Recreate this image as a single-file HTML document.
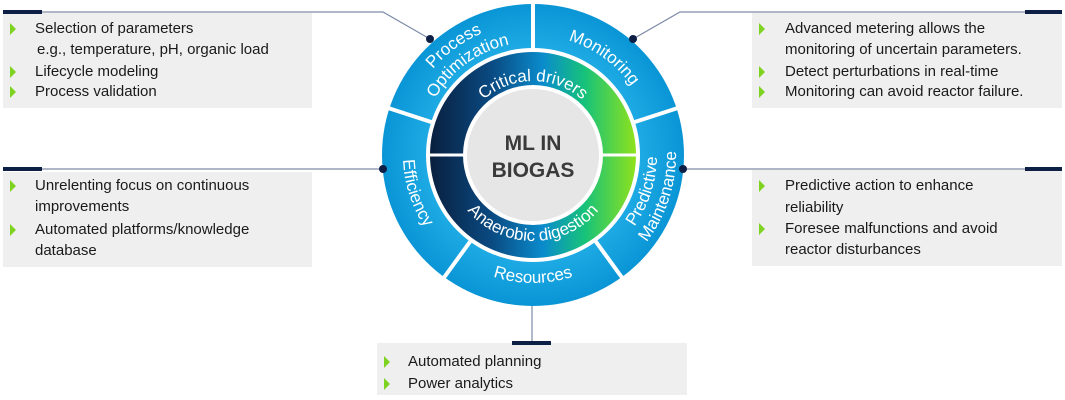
<!DOCTYPE html>
<html><head><meta charset="utf-8"><style>
body{margin:0;width:1065px;height:400px;background:#fff;position:relative;overflow:hidden;font-family:"Liberation Sans",sans-serif;}
.box{position:absolute;background:#efefef;}
.t{position:absolute;font-size:15px;color:#1a1a1a;white-space:nowrap;line-height:18px;}
.a{position:absolute;width:0;height:0;border-top:6px solid transparent;border-bottom:6px solid transparent;border-left:6px solid #7ed321;}
svg{position:absolute;left:0;top:0;}
</style></head><body>
<div class="box" style="left:3px;top:13px;width:309px;height:95px"></div>
<div class="box" style="left:752px;top:13px;width:310px;height:95px"></div>
<div class="box" style="left:3px;top:172px;width:309px;height:95px"></div>
<div class="box" style="left:752px;top:170px;width:310px;height:96px"></div>
<div class="box" style="left:377px;top:343px;width:310px;height:52px"></div>

<div class="a" style="left:10px;top:23px"></div><div class="t" style="left:35px;top:20px">Selection of parameters</div>
<div class="t" style="left:37px;top:41px">e.g., temperature, pH, organic load</div>
<div class="a" style="left:10px;top:66px"></div><div class="t" style="left:35px;top:63px">Lifecycle modeling</div>
<div class="a" style="left:10px;top:86px"></div><div class="t" style="left:35px;top:83px">Process validation</div>

<div class="a" style="left:759px;top:23px"></div><div class="t" style="left:785px;top:20px">Advanced metering allows the</div>
<div class="t" style="left:785px;top:41px">monitoring of uncertain parameters.</div>
<div class="a" style="left:759px;top:66px"></div><div class="t" style="left:785px;top:63px">Detect perturbations in real-time</div>
<div class="a" style="left:759px;top:86px"></div><div class="t" style="left:785px;top:83px">Monitoring can avoid reactor failure.</div>

<div class="a" style="left:10px;top:180px"></div><div class="t" style="left:35px;top:177px">Unrelenting focus on continuous</div>
<div class="t" style="left:35px;top:198px">improvements</div>
<div class="a" style="left:10px;top:224px"></div><div class="t" style="left:35px;top:221px">Automated platforms/knowledge</div>
<div class="t" style="left:35px;top:242px">database</div>

<div class="a" style="left:759px;top:180px"></div><div class="t" style="left:785px;top:177px">Predictive action to enhance</div>
<div class="t" style="left:785px;top:199px">reliability</div>
<div class="a" style="left:759px;top:223px"></div><div class="t" style="left:785px;top:220px">Foresee malfunctions and avoid</div>
<div class="t" style="left:785px;top:241px">reactor disturbances</div>

<div class="a" style="left:384px;top:356px"></div><div class="t" style="left:408px;top:353px">Automated planning</div>
<div class="a" style="left:384px;top:378px"></div><div class="t" style="left:408px;top:375px">Power analytics</div>

<svg width="1065" height="400" viewBox="0 0 1065 400">
<defs>
<radialGradient id="og" cx="533" cy="155" r="150" gradientUnits="userSpaceOnUse">
<stop offset="0.65" stop-color="#22aee6"/><stop offset="1" stop-color="#0a96d6"/></radialGradient>
<linearGradient id="ig" x1="430" y1="0" x2="636" y2="0" gradientUnits="userSpaceOnUse">
<stop offset="0" stop-color="#0a1f3e"/><stop offset="0.3" stop-color="#0a4a82"/><stop offset="0.55" stop-color="#0a8ccc"/><stop offset="0.75" stop-color="#16c27a"/><stop offset="1" stop-color="#8fe21c"/></linearGradient>
<path id="p1" d="M401,155 A132,132 0 0 1 573.8,29.5"/>
<path id="p2" d="M420,155 A113,113 0 0 1 567.9,47.5"/>
<path id="p3" d="M495.9,40.9 A121,121 0 0 1 654,155"/>
<path id="p4" d="M533,279 A124,124 0 0 0 605.9,54.7"/>
<path id="p5" d="M533,298 A143,143 0 0 0 617.1,39.3"/>
<path id="p6" d="M456.6,49.8 A130,130 0 0 0 533,285"/>
<path id="p7" d="M411.3,194.6 A128,128 0 0 0 654.7,194.6"/>
<path id="p8" d="M459,155 A74,74 0 0 1 607,155"/>
<path id="p9" d="M447,155 A86,86 0 0 0 619,155"/>
</defs>
<g stroke="#7d8ba6" stroke-width="1.2" fill="none">
<polyline points="42,12 383,12 430,39"/>
<polyline points="633,39 680,12 1025,12"/>
<line x1="42" y1="169" x2="383" y2="169"/>
<line x1="683" y1="169" x2="1025" y2="169"/>
<line x1="532" y1="300" x2="532" y2="343"/>
</g>
<g fill="#0d1f45">
<rect x="3" y="10" width="39" height="4"/><rect x="1025" y="10" width="37" height="4"/>
<rect x="3" y="167" width="39" height="4"/><rect x="1025" y="167" width="37" height="4"/>
<rect x="512" y="341" width="39" height="4"/>
</g>
<circle cx="533" cy="155" r="151" fill="url(#og)"/>
<g stroke="#fff" stroke-width="4">
<line x1="533" y1="50" x2="533" y2="2"/>
<line x1="632.9" y1="122.6" x2="679" y2="107.6"/>
<line x1="433.1" y1="122.6" x2="387" y2="107.6"/>
<line x1="594.7" y1="240" x2="623.4" y2="279.5"/>
<line x1="471.3" y1="240" x2="442.6" y2="279.5"/>
</g>
<circle cx="533" cy="155" r="107" fill="#fff"/>
<circle cx="533" cy="155" r="103" fill="url(#ig)"/>
<line x1="428" y1="155" x2="638" y2="155" stroke="#fff" stroke-width="3"/>
<circle cx="533" cy="155" r="70" fill="#fff"/>
<circle cx="533" cy="155" r="66" fill="#e6e6e6"/>
<text x="533" y="150" text-anchor="middle" font-size="21" font-weight="bold" fill="#3a3a3a">ML IN</text>
<text x="533" y="177" text-anchor="middle" font-size="21" font-weight="bold" fill="#3a3a3a">BIOGAS</text>
<g fill="#fff" font-size="17">
<text><textPath href="#p1" startOffset="50%" text-anchor="middle">Process</textPath></text>
<text><textPath href="#p2" startOffset="50%" text-anchor="middle">Optimization</textPath></text>
<text><textPath href="#p3" startOffset="50%" text-anchor="middle">Monitoring</textPath></text>
<text><textPath href="#p4" startOffset="50%" text-anchor="middle">Predictive</textPath></text>
<text><textPath href="#p5" startOffset="50%" text-anchor="middle">Maintenance</textPath></text>
<text><textPath href="#p6" startOffset="50%" text-anchor="middle">Efficiency</textPath></text>
<text><textPath href="#p7" startOffset="50%" text-anchor="middle">Resources</textPath></text>
<text><textPath href="#p8" startOffset="50%" text-anchor="middle">Critical drivers</textPath></text>
<text><textPath href="#p9" startOffset="50%" text-anchor="middle">Anaerobic digestion</textPath></text>
</g>
<g fill="#0d1f45">
<circle cx="430" cy="39" r="4"/><circle cx="633" cy="39" r="4"/>
<circle cx="383" cy="169" r="4"/><circle cx="683" cy="169" r="4"/>
</g>
</svg>
</body></html>
